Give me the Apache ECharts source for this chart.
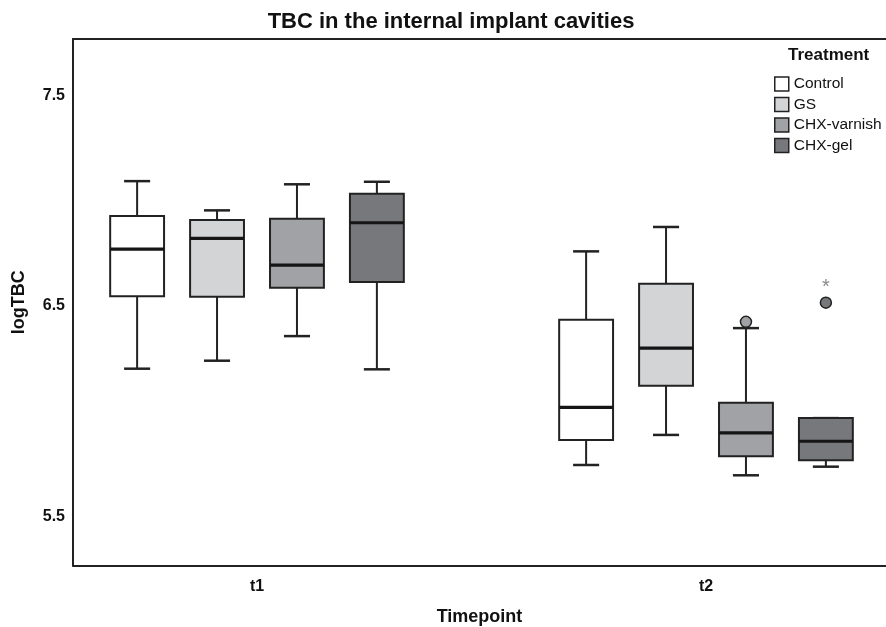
<!DOCTYPE html>
<html><head><meta charset="utf-8">
<script src="https://cdn.jsdelivr.net/npm/echarts@6/dist/echarts.min.js"></script>
<style>html,body{margin:0;padding:0;background:#fff;width:886px;height:627px;overflow:hidden}#c{width:886px;height:627px;display:block}</style>
</head><body><div id="c"></div>
<script>
// ---- data ----
const timepoints = ['t1', 't2'];
const treatments = ['Control', 'GS', 'CHX-varnish', 'CHX-gel'];
const yTickValues = [5.5, 6.5, 7.5];
// [min, Q1, median, Q3, max] per timepoint
const controlBox = [[6.202, 6.546, 6.771, 6.928, 7.094], [5.744, 5.863, 6.018, 6.435, 6.760]];
const gsBox      = [[6.240, 6.544, 6.822, 6.909, 6.955], [5.887, 6.121, 6.300, 6.606, 6.876]];
const varnishBox = [[6.357, 6.587, 6.695, 6.915, 7.079], [5.695, 5.785, 5.897, 6.040, 6.395]];
const gelBox     = [[6.199, 6.614, 6.896, 7.034, 7.091], [5.736, 5.766, 5.857, 5.967, 5.967]];
// outliers: [timepoint index, value, treatment index, kind]
const outlierPoints = [[1, 6.425, 2, 'o'], [1, 6.516, 3, 'o'], [1, 6.608, 3, '*']];

const fills = ['#ffffff', '#d3d4d6', '#a1a2a5', '#77787c'];
const boxes = [controlBox, gsBox, varnishBox, gelBox];
const FONT = 'Liberation Sans, Arial, sans-serif';
const STROKE = '#222';

const chart = echarts.init(document.getElementById('c'), null, {renderer: 'canvas', width: 886, height: 627});

function boxRender(k) {
  return function (params, api) {
    const unit = api.size([1, 0])[0];
    const xv = api.value(0) + (k - 1.5) * 0.178;
    const cx = api.coord([xv, 0])[0];
    const bw = unit * 0.12, cw = unit * 0.058;
    const yMin = api.coord([xv, api.value(1)])[1];
    const yQ1 = api.coord([xv, api.value(2)])[1];
    const yMed = api.coord([xv, api.value(3)])[1];
    const yQ3 = api.coord([xv, api.value(4)])[1];
    const yMax = api.coord([xv, api.value(5)])[1];
    const ls = {stroke: STROKE, lineWidth: 2};
    const ch = [
      {type: 'line', shape: {x1: cx, y1: yMax, x2: cx, y2: yQ3}, style: ls},
      {type: 'line', shape: {x1: cx, y1: yQ1, x2: cx, y2: yMin}, style: ls},
      {type: 'line', shape: {x1: cx - cw / 2, y1: yMax, x2: cx + cw / 2, y2: yMax}, style: {stroke: STROKE, lineWidth: 2.5}},
      {type: 'line', shape: {x1: cx - cw / 2, y1: yMin, x2: cx + cw / 2, y2: yMin}, style: {stroke: STROKE, lineWidth: 2.5}},
      {type: 'rect', shape: {x: cx - bw / 2, y: yQ3, width: bw, height: yQ1 - yQ3}, style: {fill: fills[k], stroke: STROKE, lineWidth: 2}},
      {type: 'line', shape: {x1: cx - bw / 2, y1: yMed, x2: cx + bw / 2, y2: yMed}, style: {stroke: '#151515', lineWidth: 3.2}}
    ];
    return {type: 'group', children: ch};
  };
}

const series = treatments.map((name, k) => ({
  name: name,
  type: 'custom',
  renderItem: boxRender(k),
  itemStyle: {color: fills[k], borderColor: STROKE, borderWidth: 1.5},
  encode: {x: 0, y: [1, 2, 3, 4, 5]},
  data: boxes[k].map((b, i) => [i + 1].concat(b)),
  z: 2
}));

series.push({
  name: 'outliers',
  type: 'custom',
  renderItem: function (params, api) {
    const k = api.value(2);
    const xv = api.value(0) + (k - 1.5) * 0.178;
    const p = api.coord([xv, api.value(1)]);
    const kind = outlierPoints[params.dataIndex][3];
    if (kind === '*') {
      return {type: 'text', x: p[0], y: p[1] + 4, style: {text: '*', fill: '#8a8a8a', font: '20px ' + FONT, align: 'center', verticalAlign: 'middle'}};
    }
    return {type: 'circle', shape: {cx: p[0], cy: p[1], r: 5.5}, style: {fill: fills[k], stroke: STROKE, lineWidth: 1.5}};
  },
  encode: {x: 0, y: 1},
  data: outlierPoints.map(o => [o[0] + 1, o[1], o[2]]),
  z: 3
});

const xMin = 0.5902, xMax = 0.5902 + 813 / 449;

chart.setOption({
  animation: false,
  backgroundColor: '#fff',
  title: [
    {text: 'TBC in the internal implant cavities', left: 446, top: 6, textAlign: 'center',
     textStyle: {fontFamily: FONT, fontSize: 22, fontWeight: 'bold', color: '#111'}},
    {text: 'Treatment', left: 783, top: 42,
     textStyle: {fontFamily: FONT, fontSize: 17, fontWeight: 'bold', color: '#111'}}
  ],
  legend: {
    orient: 'vertical', left: 769, top: 71, itemWidth: 14, itemHeight: 14, itemGap: 4.5,
    icon: 'rect',
    textStyle: {fontFamily: FONT, fontSize: 15.5, color: '#111'},
    data: treatments.map((n, k) => ({name: n, itemStyle: {color: fills[k], borderColor: STROKE, borderWidth: 1.5}})),
    selectedMode: false
  },
  grid: {left: 73, top: 39, right: 0, bottom: 61.5, outerBoundsMode: 'none', containLabel: false},
  xAxis: [{
    type: 'value', min: xMin, max: xMax,
    name: 'Timepoint', nameLocation: 'middle', nameGap: 43,
    nameTextStyle: {fontFamily: FONT, fontSize: 18, fontWeight: 'bold', color: '#111'},
    axisLine: {show: true, lineStyle: {color: '#222', width: 2}},
    axisTick: {show: false}, splitLine: {show: false},
    axisLabel: {customValues: [1, 2], formatter: v => timepoints[Math.round(v) - 1] || '', margin: 13,
                fontFamily: FONT, fontSize: 16, fontWeight: 'bold', color: '#111'}
  }, {
    type: 'value', position: 'top', min: xMin, max: xMax,
    axisLine: {show: true, lineStyle: {color: '#222', width: 2}},
    axisTick: {show: false}, splitLine: {show: false}, axisLabel: {show: false}
  }],
  yAxis: {
    type: 'value', min: 5.266, max: 7.770,
    name: 'logTBC', nameLocation: 'middle', nameGap: 45,
    nameTextStyle: {fontFamily: FONT, fontSize: 18, fontWeight: 'bold', color: '#111'},
    axisLine: {show: true, lineStyle: {color: '#222', width: 2}},
    axisTick: {show: false}, splitLine: {show: false},
    axisLabel: {customValues: yTickValues, formatter: v => v.toFixed(1), margin: 8,
                fontFamily: FONT, fontSize: 16, fontWeight: 'bold', color: '#111'}
  },
  series: series
});
</script>
</body></html>
